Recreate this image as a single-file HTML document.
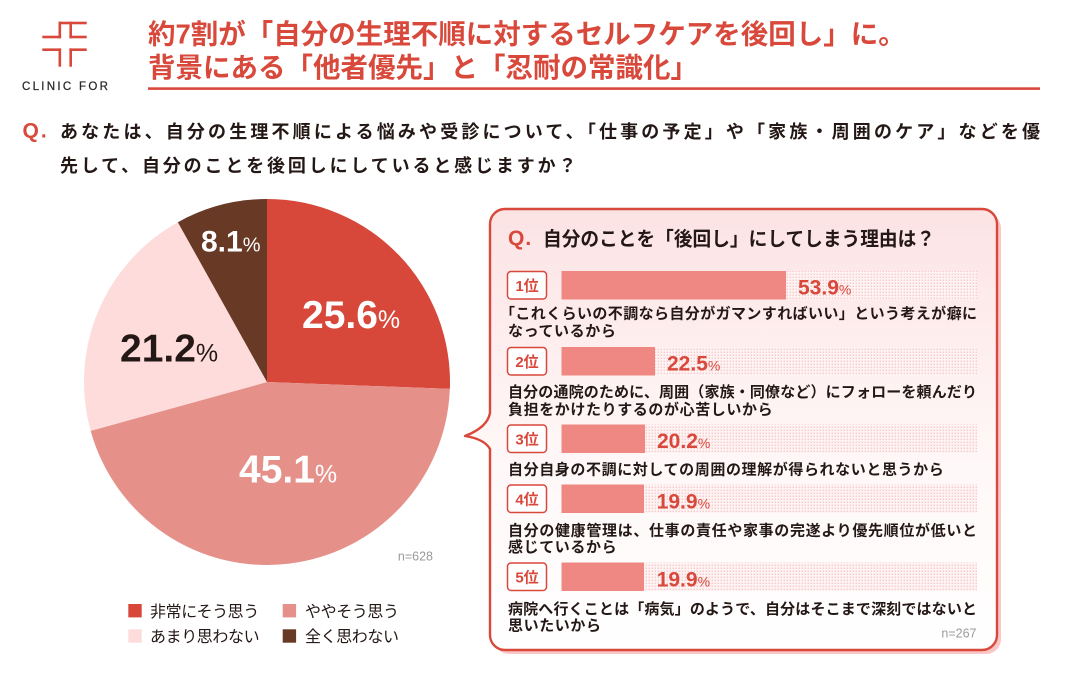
<!DOCTYPE html>
<html lang="ja">
<head>
<meta charset="utf-8">
<style>
  html,body{margin:0;padding:0;background:#fff;}
  body{width:1080px;height:685px;overflow:hidden;}
  svg{display:block;}
  .jp{font-family:"Liberation Sans","Noto Sans CJK JP",sans-serif;}
  .lat{font-family:"Liberation Sans",sans-serif;}
</style>
</head>
<body>
<svg width="1080" height="685" viewBox="0 0 1080 685" xmlns="http://www.w3.org/2000/svg">
  <defs>
    <linearGradient id="pg" x1="0" y1="0" x2="0" y2="1">
      <stop offset="0" stop-color="#fce3e4"/>
      <stop offset="0.55" stop-color="#fff7f7"/>
      <stop offset="1" stop-color="#ffffff"/>
    </linearGradient>
    <pattern id="dots" x="0" y="0" width="3" height="3" patternUnits="userSpaceOnUse">
      <rect width="3" height="3" fill="#fef3f3"/>
      <rect x="0.6" y="0.6" width="1.4" height="1.4" fill="#f8c9c9"/>
    </pattern>
  </defs>

  <!-- Logo -->
  <g fill="#d8483b">
    <rect x="58.5" y="21.7" width="28.2" height="2.6"/>
    <rect x="58.5" y="21.7" width="2.6" height="16.6"/>
    <rect x="69.4" y="21.7" width="2.6" height="16.6"/>
    <rect x="42.3" y="35.7" width="18.8" height="2.6"/>
    <rect x="69.4" y="35.7" width="17.3" height="2.6"/>
    <rect x="42.3" y="48.4" width="18.8" height="2.6"/>
    <rect x="69.4" y="48.4" width="17.3" height="2.6"/>
    <rect x="58.5" y="48.4" width="2.6" height="18.3"/>
    <rect x="69.4" y="48.4" width="2.6" height="18.3"/>
  </g>
  <text x="22" y="90" class="lat" font-size="11.5" fill="#2a2a2a" stroke="#2a2a2a" stroke-width="0.25" style="letter-spacing:2.3px">CLINIC FOR</text>

  <!-- Title -->
  <text x="148" y="43.6" class="jp" font-size="27.5" font-weight="bold" fill="#d8483b">約7割が「自分の生理不順に対するセルフケアを後回し」に。</text>
  <text x="148" y="77" class="jp" font-size="27.5" font-weight="bold" fill="#d8483b">背景にある「他者優先」と「忍耐の常識化」</text>
  <rect x="148" y="87.3" width="892" height="2.6" fill="#d8483b"/>

  <!-- Question -->
  <text x="22.5" y="137.5" class="lat" font-size="21" font-weight="bold" fill="#d8483b" style="letter-spacing:2px">Q.</text>
  <text x="60" y="137.8" class="jp" font-size="18" font-weight="bold" fill="#231815" textLength="980" lengthAdjust="spacing">あなたは、自分の生理不順による悩みや受診について、「仕事の予定」や「家族・周囲のケア」などを優</text>
  <text x="60" y="171.8" class="jp" font-size="18" font-weight="bold" fill="#231815" style="letter-spacing:2.85px">先して、自分のことを後回しにしていると感じますか？</text>

  <!-- Pie -->
  <g>
    <path d="M267 382 L267 199 A183 183 0 0 1 449.87 388.90 Z" fill="#d7483b"/>
    <path d="M267 382 L449.87 388.90 A183 183 0 0 1 90.64 430.84 Z" fill="#e5918a"/>
    <path d="M267 382 L90.64 430.84 A183 183 0 0 1 177.83 222.19 Z" fill="#fddcdb"/>
    <path d="M267 382 L177.83 222.19 A183 183 0 0 1 267 199 Z" fill="#683925"/>
  </g>
  <text x="302" y="328" class="lat" font-size="39" font-weight="bold" fill="#fff">25.6<tspan font-size="25" font-weight="normal">%</tspan></text>
  <text x="239" y="482.7" class="lat" font-size="39" font-weight="bold" fill="#fff">45.1<tspan font-size="25" font-weight="normal">%</tspan></text>
  <text x="120" y="361.7" class="lat" font-size="39" font-weight="bold" fill="#231815">21.2<tspan font-size="25" font-weight="normal">%</tspan></text>
  <text x="201" y="251.7" class="lat" font-size="30" font-weight="bold" fill="#fff">8.1<tspan font-size="20" font-weight="normal">%</tspan></text>
  <text x="433" y="560.5" class="lat" font-size="12.5" fill="#9a9a9a" text-anchor="end">n=628</text>

  <!-- Legend -->
  <rect x="128.3" y="604" width="13.4" height="13.4" fill="#d7483b"/>
  <rect x="282.7" y="604" width="13.4" height="13.4" fill="#e5918a"/>
  <rect x="128.3" y="629.3" width="13.4" height="13.4" fill="#fddcdb"/>
  <rect x="282.7" y="629.3" width="13.4" height="13.4" fill="#683925"/>
  <g class="jp" font-size="16" fill="#231815" style="letter-spacing:-0.4px">
    <text x="150" y="617">非常にそう思う</text>
    <text x="305" y="617">ややそう思う</text>
    <text x="150" y="642">あまり思わない</text>
    <text x="305" y="642">全く思わない</text>
  </g>

  <!-- Panel shadow -->
  <path d="M509 213 H986 A15 15 0 0 1 1001 228 V639 A15 15 0 0 1 986 654 H509 A15 15 0 0 1 494 639 V228 A15 15 0 0 1 509 213 Z" fill="#fbc6c6"/>
  <!-- Panel -->
  <path d="M505 209 H982 A15 15 0 0 1 997 224 V635 A15 15 0 0 1 982 650 H505 A15 15 0 0 1 490 635 V449 C486 442, 478 438, 465 436 C478 431, 488 424, 490 413 V224 A15 15 0 0 1 505 209 Z" fill="url(#pg)" stroke="#d8483b" stroke-width="2.4" stroke-linejoin="round"/>

  <!-- Panel title -->
  <text x="508" y="245" class="lat" font-size="21" font-weight="bold" fill="#d8483b" style="letter-spacing:1px">Q.</text>
  <text x="543" y="245.4" class="jp" font-size="19.5" font-weight="bold" fill="#231815" textLength="392" lengthAdjust="spacingAndGlyphs">自分のことを「後回し」にしてしまう理由は？</text>

  <!-- Rows -->
  <g>
    <rect x="786" y="271" width="191" height="28.5" fill="url(#dots)"/>
    <rect x="655" y="347" width="322" height="28.5" fill="url(#dots)"/>
    <rect x="645" y="424.5" width="332" height="28.5" fill="url(#dots)"/>
    <rect x="644" y="484.5" width="333" height="28.5" fill="url(#dots)"/>
    <rect x="644" y="562.5" width="333" height="28.5" fill="url(#dots)"/>
    <rect x="561.5" y="271" width="224.5" height="28.5" fill="#ef8883"/>
    <rect x="561.5" y="347" width="93.5" height="28.5" fill="#ef8883"/>
    <rect x="561.5" y="424.5" width="83.5" height="28.5" fill="#ef8883"/>
    <rect x="561.5" y="484.5" width="82.5" height="28.5" fill="#ef8883"/>
    <rect x="561.5" y="562.5" width="82.5" height="28.5" fill="#ef8883"/>
    <g fill="#fff" stroke="#d8483b" stroke-width="1.5">
      <rect x="507.5" y="271.5" width="39" height="27.5" rx="3.5"/>
      <rect x="507.5" y="347.5" width="39" height="27.5" rx="3.5"/>
      <rect x="507.5" y="425" width="39" height="27.5" rx="3.5"/>
      <rect x="507.5" y="485" width="39" height="27.5" rx="3.5"/>
      <rect x="507.5" y="563" width="39" height="27.5" rx="3.5"/>
    </g>
    <g class="jp" font-size="15" font-weight="bold" fill="#d8483b" text-anchor="middle">
      <text x="527" y="290.8">1位</text>
      <text x="527" y="366.8">2位</text>
      <text x="527" y="444.3">3位</text>
      <text x="527" y="504.3">4位</text>
      <text x="527" y="582.3">5位</text>
    </g>
    <g class="lat" font-size="21" font-weight="bold" fill="#d8483b">
      <text x="798" y="294.5">53.9<tspan font-size="14" font-weight="normal">%</tspan></text>
      <text x="667" y="370.5">22.5<tspan font-size="14" font-weight="normal">%</tspan></text>
      <text x="657" y="448">20.2<tspan font-size="14" font-weight="normal">%</tspan></text>
      <text x="656.7" y="508.3">19.9<tspan font-size="14" font-weight="normal">%</tspan></text>
      <text x="656.7" y="586.3">19.9<tspan font-size="14" font-weight="normal">%</tspan></text>
    </g>
    <g class="jp" font-size="15" font-weight="bold" fill="#231815">
      <text x="500" y="318.7" textLength="477" lengthAdjust="spacing">「これくらいの不調なら自分がガマンすればいい」という考えが癖に</text>
      <text x="508" y="336" style="letter-spacing:0.6px">なっているから</text>
      <text x="508" y="397.2" textLength="469" lengthAdjust="spacing">自分の通院のために、周囲（家族・同僚など）にフォローを頼んだり</text>
      <text x="508" y="414.5" style="letter-spacing:0.6px">負担をかけたりするのが心苦しいから</text>
      <text x="508" y="474.7" style="letter-spacing:0.6px">自分自身の不調に対しての周囲の理解が得られないと思うから</text>
      <text x="508" y="535.7" textLength="469" lengthAdjust="spacing">自分の健康管理は、仕事の責任や家事の完遂より優先順位が低いと</text>
      <text x="508" y="552.2" style="letter-spacing:0.6px">感じているから</text>
      <text x="508" y="613.8" textLength="469" lengthAdjust="spacing">病院へ行くことは「病気」のようで、自分はそこまで深刻ではないと</text>
      <text x="508" y="630.3" style="letter-spacing:0.6px">思いたいから</text>
    </g>
    <text x="976.5" y="637.5" class="lat" font-size="12.5" fill="#9a9a9a" text-anchor="end">n=267</text>
  </g>
</svg>
</body>
</html>
